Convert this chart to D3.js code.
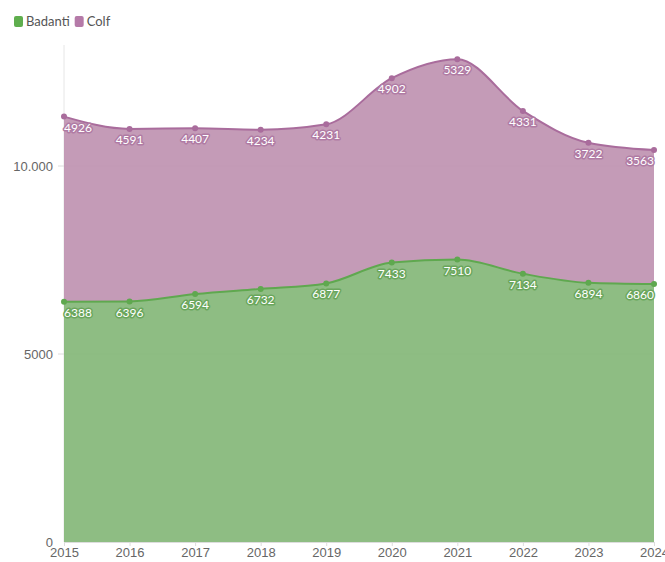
<!DOCTYPE html>
<html>
  <head>
    <meta charset="utf-8">
    <style>
      body { margin: 0; background: #fff; font-family: Lato, "Open Sans", sans-serif; }
      .axis text { fill: #666; font-size: 13px; }
      .lbl { font-size: 12px; fill: #fff; paint-order: stroke; stroke-width: 3px; stroke-linejoin: round; }
    </style>
  </head>
  <body>
    <div id="chart"></div>
    <script src="https://d3js.org/d3.v7.min.js"></script>
    <script>
      var years = [2015, 2016, 2017, 2018, 2019, 2020, 2021, 2022, 2023, 2024];
      var badanti = [6388, 6396, 6594, 6732, 6877, 7433, 7510, 7134, 6894, 6860];
      var colf = [4926, 4591, 4407, 4234, 4231, 4902, 5329, 4331, 3722, 3563];
      var yTicks = [0, 5000, 10000];
      var seriesNames = ["Badanti", "Colf"];

      var W = 665, H = 562;
      var margin = { top: 45, right: 11, bottom: 20, left: 64 };
      var width = W - margin.left - margin.right;
      var height = H - margin.top - margin.bottom;

      var fills = { Badanti: "#82b675", Colf: "#be90af" };
      var strokes = { Badanti: "#5fa84f", Colf: "#a96c9c" };
      var halos = { Badanti: "#6aa65c", Colf: "#b07ba4" };

      var svg = d3.select("#chart").append("svg")
          .attr("width", W)
          .attr("height", H);

      // legend
      var leg = svg.append("g").attr("transform", "translate(14,16)");
      var lx = 0;
      seriesNames.forEach(function(n) {
        leg.append("rect").attr("x", lx).attr("y", 0).attr("width", 9).attr("height", 11)
          .attr("rx", 2).style("fill", n == "Badanti" ? "#5fae4e" : "#b57aa8");
        var t = leg.append("text").attr("x", lx + 12).attr("y", 10)
          .style("font-size", "13px").style("fill", "#555").text(n);
        lx += 12 + t.node().getComputedTextLength() + 5;
      });

      var g = svg.append("g").attr("transform", "translate(" + margin.left + "," + margin.top + ")");

      var x = d3.scaleLinear().domain([2015, 2024]).range([0, width]);
      var y = d3.scaleLinear().domain([0, 12500]).range([height, height - 12500 * 188 / 5000]);

      // grid
      g.append("line").attr("x1", 0).attr("x2", 0).attr("y1", 0).attr("y2", height)
        .style("stroke", "#e6e6e6");
      g.selectAll(".grid").data(yTicks.slice(1)).enter().append("line")
        .attr("x1", -6).attr("x2", width)
        .attr("y1", function(d) { return y(d); }).attr("y2", function(d) { return y(d); })
        .style("stroke", "#dcdcdc");

      var data = years.map(function(yr, i) { return { year: yr, Badanti: badanti[i], Colf: colf[i] }; });
      var stack = d3.stack().keys(seriesNames)(data);

      var area = d3.area().curve(d3.curveMonotoneX)
        .x(function(d) { return x(d.data.year); })
        .y0(function(d) { return y(d[0]); })
        .y1(function(d) { return y(d[1]); });
      var line = d3.line().curve(d3.curveMonotoneX)
        .x(function(d) { return x(d.data.year); })
        .y(function(d) { return y(d[1]); });

      stack.forEach(function(s) {
        g.append("path").attr("d", area(s)).style("fill", fills[s.key]).style("opacity", 0.9);
      });
      stack.forEach(function(s) {
        g.append("path").attr("d", line(s)).style("fill", "none")
          .style("stroke", strokes[s.key]).style("stroke-width", 2);
        g.selectAll(null).data(s).enter().append("circle")
          .attr("cx", function(d) { return x(d.data.year); })
          .attr("cy", function(d) { return y(d[1]); })
          .attr("r", 3).style("fill", strokes[s.key]);
        g.selectAll(null).data(s).enter().append("text")
          .attr("class", "lbl")
          .attr("x", function(d) { return x(d.data.year); })
          .attr("y", function(d) { return y(d[1]) + 15; })
          .attr("text-anchor", function(d, i) { return i == 0 ? "start" : (i == s.length - 1 ? "end" : "middle"); })
          .style("stroke", halos[s.key])
          .text(function(d) { return d.data[s.key]; });
      });

      // axes
      var yAxis = g.append("g").attr("class", "axis")
        .call(d3.axisLeft(y).tickValues(yTicks).tickSize(0).tickPadding(11)
          .tickFormat(function(d) { return d >= 10000 ? d3.format(",")(d).replace(",", ".") : d; }));
      yAxis.select(".domain").remove();
      yAxis.selectAll("text").attr("dy", "0.32em");

      var xAxis = g.append("g").attr("class", "axis")
        .attr("transform", "translate(0," + height + ")")
        .call(d3.axisBottom(x).tickValues(years).tickFormat(d3.format("d")).tickSize(4).tickPadding(2));
      xAxis.select(".domain").style("stroke", "#ddd");
      xAxis.selectAll(".tick line").style("stroke", "#ddd");
    </script>
  </body>
</html>
